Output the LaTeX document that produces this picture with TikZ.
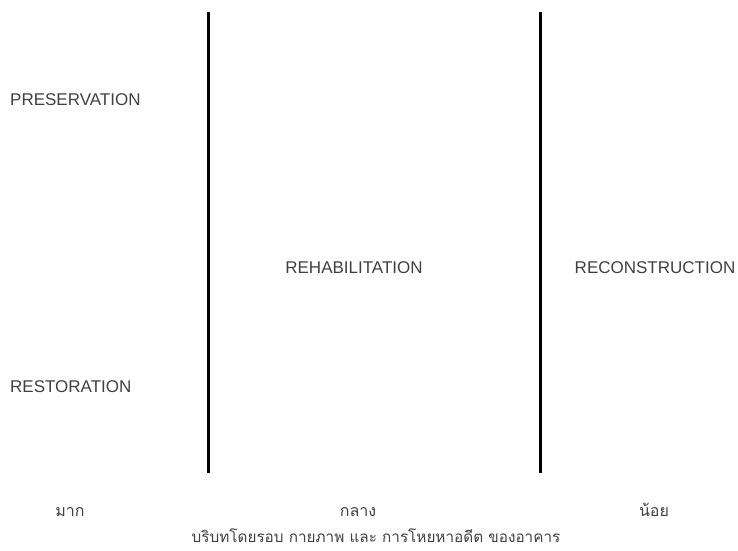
\documentclass[tikz,border=0pt]{standalone}
\usepackage{fontspec}
\setmainfont{Liberation Sans}
\newfontfamily\thaifont[Script=Thai]{Loma}
\begin{document}
\begin{tikzpicture}[x=1pt,y=-1pt,
  lbl/.style={font=\fontsize{17}{19}\selectfont, text=black!75, inner sep=0pt},
  tlbl/.style={font=\thaifont\fontsize{16}{19}\selectfont, text=black!75, inner sep=0pt, anchor=base},
  subl/.style={font=\thaifont\fontsize{15.3}{18}\selectfont, text=black!75, inner sep=0pt, anchor=base},
  divider/.style={line width=3pt, black}]
\useasboundingbox (0,0) rectangle (738,550);
\coordinate (l1t) at (208,12);
\coordinate (l1b) at (208,473);
\coordinate (l2t) at (540,12);
\coordinate (l2b) at (540,473);
\draw[divider] (l1t) -- (l1b);
\draw[divider] (l2t) -- (l2b);
\node[lbl, anchor=west] (pres) at (10,100) {PRESERVATION};
\node[lbl, anchor=west] (rest) at (10,387) {RESTORATION};
\node[lbl] (rehab) at (354,268) {REHABILITATION};
\node[lbl] (recon) at (655,268) {RECONSTRUCTION};
\node[tlbl] (mak) at (70,516) {มาก};
\node[tlbl] (klang) at (358,516) {กลาง};
\node[tlbl] (noi) at (654,516) {น้อย};
\node[subl] (sub) at (376,542) {บริบทโดยรอบ กายภาพ และ การโหยหาอดีต ของอาคาร};
\end{tikzpicture}
\end{document}
